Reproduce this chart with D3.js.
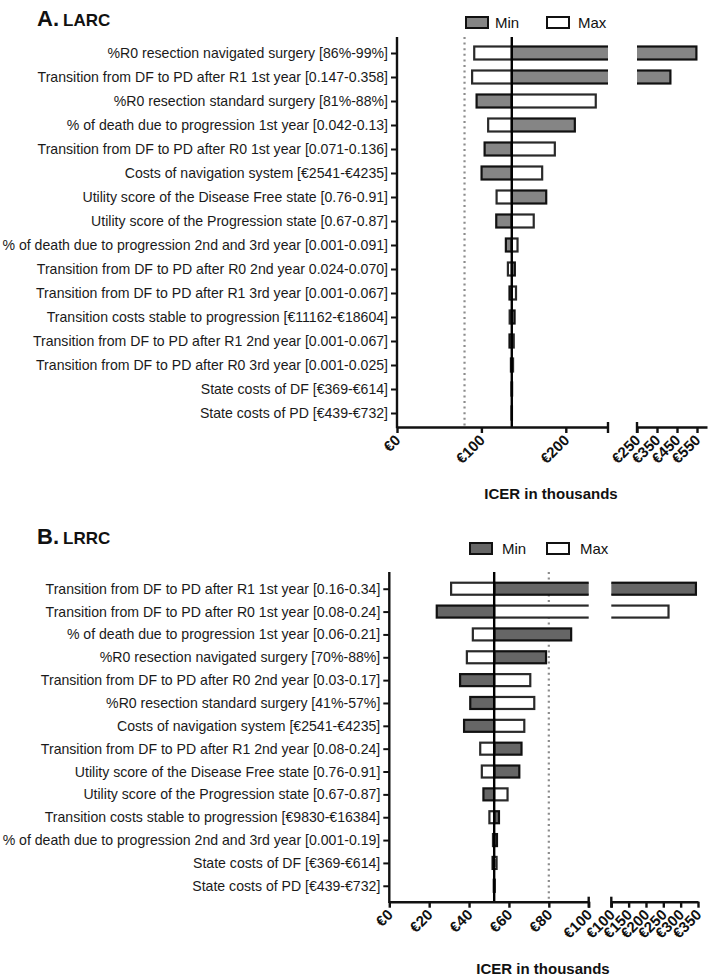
<!DOCTYPE html>
<html><head><meta charset="utf-8">
<script src="https://cdn.jsdelivr.net/npm/d3@7"></script>
<style>
body{margin:0;background:#fff}
svg{display:block}
text{font-family:"Liberation Sans",Arial,Helvetica,sans-serif}
</style>
</head><body>
<svg id="chart" width="712" height="978"></svg>
<script>
// ---------- DATA ----------
const larcCategories = [
  "%R0 resection navigated surgery [86%-99%]",
  "Transition from DF to PD after R1 1st year [0.147-0.358]",
  "%R0 resection standard surgery [81%-88%]",
  "% of death due to progression 1st year [0.042-0.13]",
  "Transition from DF to PD after R0 1st year [0.071-0.136]",
  "Costs of navigation system [€2541-€4235]",
  "Utility score of the Disease Free state [0.76-0.91]",
  "Utility score of the Progression state [0.67-0.87]",
  "% of death due to progression 2nd and 3rd year [0.001-0.091]",
  "Transition from DF to PD after R0 2nd year 0.024-0.070]",
  "Transition from DF to PD after R1 3rd year [0.001-0.067]",
  "Transition costs stable to progression [€11162-€18604]",
  "Transition from DF to PD after R1 2nd year [0.001-0.067]",
  "Transition from DF to PD after R0 3rd year [0.001-0.025]",
  "State costs of DF [€369-€614]",
  "State costs of PD [€439-€732]"
];
const larcMin = [547, 417, 94.3, 210.7, 103.8, 100.2, 176.8, 117.6, 129, 139.6, 133.3, 139.3, 133.3, 135, 135.8, 135.9];
const larcMax = [91.5, 89, 235.5, 108, 187, 172, 118, 162, 142.8, 131.4, 141, 133.5, 138.3, 137.5, 136.4, 136.2];
const larcBase = 136;
const larcThreshold = 80;
const larcTicksLow = [0, 100, 200];
const larcTicksHigh = [250, 350, 450, 550];
const larcBreak = [250, 600];

const lrrcCategories = [
  "Transition from DF to PD after R1 1st year [0.16-0.34]",
  "Transition from DF to PD after R0 1st year [0.08-0.24]",
  "% of death due to progression 1st year [0.06-0.21]",
  "%R0 resection navigated surgery [70%-88%]",
  "Transition from DF to PD after R0 2nd year [0.03-0.17]",
  "%R0 resection standard surgery [41%-57%]",
  "Costs of navigation system [€2541-€4235]",
  "Transition from DF to PD after R1 2nd year [0.08-0.24]",
  "Utility score of the Disease Free state [0.76-0.91]",
  "Utility score of the Progression state [0.67-0.87]",
  "Transition costs stable to progression [€9830-€16384]",
  "% of death due to progression 2nd and 3rd year [0.001-0.19]",
  "State costs of DF [€369-€614]",
  "State costs of PD [€439-€732]"
];
const lrrcMin = [344, 23.8, 91.2, 78.6, 35.5, 40.6, 37.5, 66.3, 65.2, 47.2, 55, 54, 51.8, 52.4];
const lrrcMax = [31, 265, 41.9, 38.9, 70.7, 72.7, 67.7, 45.6, 46.4, 59.3, 50.2, 52, 53.8, 52.9];
const lrrcBase = 52.6;
const lrrcThreshold = 80;
const lrrcTicksLow = [0, 20, 40, 60, 80, 100];
const lrrcTicksHigh = [100, 150, 200, 250, 300, 350];
const lrrcBreak = [100, 350];

const seriesNames = ["Min", "Max"];
const axisTitle = "ICER in thousands";

// ---------- DRAWING ----------
const svg = d3.select("#chart");
const fmt = d => "€" + d;

function drawPanel(opt) {
  const g = svg.append("g");
  const brk = opt.brk;
  const xLow = d3.scaleLinear().domain([0, brk[0]]).range([opt.x0, opt.x1]);
  const xHigh = d3.scaleLinear().domain(brk).range([opt.x2, opt.x3]);
  const y = d3.scalePoint().domain(opt.categories).range(opt.band).padding(0.5);

  // title
  const t = g.append("text").attr("x", 37).attr("y", opt.titleY)
    .attr("font-weight", "bold").attr("fill", "#111");
  t.append("tspan").attr("font-size", 22).text(opt.letter);
  t.append("tspan").attr("font-size", 17).attr("dx", 4).text(opt.name);

  // legend
  const lg = g.append("g");
  seriesNames.forEach((s, i) => {
    lg.append("rect").attr("x", opt.legBoxX[i]).attr("y", opt.legY - 5.5)
      .attr("width", 22).attr("height", 11)
      .attr("fill", i === 0 ? opt.grey : "#fff")
      .attr("stroke", "#111").attr("stroke-width", 2);
    lg.append("text").attr("x", opt.legTextX[i]).attr("y", opt.legY + 5.5)
      .attr("font-size", 15).attr("fill", "#111").text(s);
  });

  // clip paths for the two axis segments
  const id = opt.name;
  const defs = g.append("defs");
  defs.append("clipPath").attr("id", "lo" + id).append("rect")
    .attr("x", 0).attr("y", 0).attr("width", opt.x1).attr("height", 978);
  defs.append("clipPath").attr("id", "hi" + id).append("rect")
    .attr("x", opt.x2).attr("y", 0).attr("width", 712 - opt.x2).attr("height", 978);

  const segs = [
    {scale: xLow, clip: "lo" + id, lo: 0, hi: brk[0]},
    {scale: xHigh, clip: "hi" + id, lo: brk[0], hi: brk[1]}
  ];

  // dotted threshold line
  g.append("line").attr("x1", xLow(opt.threshold)).attr("x2", xLow(opt.threshold))
    .attr("y1", opt.yTop).attr("y2", opt.axisY)
    .attr("stroke", "#8c8c8c").attr("stroke-width", 2.2).attr("stroke-dasharray", "2,3.6");

  // bars
  const rows = [];
  opt.categories.forEach((c, i) => {
    rows.push({c, v: opt.min[i], s: 0});
    rows.push({c, v: opt.max[i], s: 1});
  });
  segs.forEach(sg => {
    const sgG = g.append("g").attr("clip-path", `url(#${sg.clip})`);
    sgG.selectAll("rect").data(rows.filter(d => Math.max(d.v, opt.base) > sg.lo && Math.min(d.v, opt.base) < sg.hi))
      .join("rect")
      .attr("x", d => sg.scale(Math.min(d.v, opt.base)))
      .attr("width", d => Math.abs(sg.scale(d.v) - sg.scale(opt.base)))
      .attr("y", d => y(d.c) - opt.barH / 2)
      .attr("height", opt.barH)
      .attr("fill", d => d.s === 0 ? opt.grey : "#fff")
      .attr("stroke", d => d.s === 0 ? "#111" : "#2a2a2a")
      .attr("stroke-width", 2.2);
  });

  // base-case line
  g.append("line").attr("x1", xLow(opt.base)).attr("x2", xLow(opt.base))
    .attr("y1", opt.yTop).attr("y2", opt.axisY)
    .attr("stroke", "#000").attr("stroke-width", 2.4);

  // y axis
  const ya = g.append("g").attr("transform", `translate(${opt.x0},0)`)
    .call(d3.axisLeft(y).tickSize(6).tickPadding(3));
  ya.select(".domain").remove();
  ya.selectAll(".tick line").attr("stroke", "#111").attr("stroke-width", 2);
  ya.selectAll(".tick text").attr("font-size", 14.1).attr("fill", "#1a1a1a")
    .attr("font-family", '"Liberation Sans",Arial,sans-serif');
  g.append("line").attr("x1", opt.x0).attr("x2", opt.x0)
    .attr("y1", opt.yTop).attr("y2", opt.axisY + 1.2)
    .attr("stroke", "#111").attr("stroke-width", 2.4);

  // x axes (two segments)
  [[xLow, opt.ticksLow], [xHigh, opt.ticksHigh]].forEach(([sc, tv]) => {
    const ax = g.append("g").attr("transform", `translate(0,${opt.axisY})`)
      .call(d3.axisBottom(sc).tickValues(tv).tickSize(6).tickSizeOuter(0).tickFormat(fmt));
    ax.select(".domain").attr("stroke", "#111").attr("stroke-width", 2.4);
    ax.selectAll(".tick line").attr("stroke", "#111").attr("stroke-width", 2.4);
    ax.selectAll(".tick text")
      .attr("x", 0).attr("y", 0).attr("dy", null)
      .attr("text-anchor", "end")
      .attr("transform", "translate(4,14) rotate(-45)")
      .attr("font-size", 15).attr("font-weight", "bold").attr("fill", "#111")
      .attr("font-family", '"Liberation Sans",Arial,sans-serif');
  });
  // break caps at segment ends
  [opt.x1, opt.x2].forEach(x => {
    g.append("line").attr("x1", x).attr("x2", x)
      .attr("y1", opt.axisY - 5).attr("y2", opt.axisY + 6)
      .attr("stroke", "#111").attr("stroke-width", 2.4);
  });

  // axis title
  g.append("text").attr("x", opt.titleX).attr("y", opt.axisTitleY)
    .attr("text-anchor", "middle").attr("font-size", 15).attr("font-weight", "bold")
    .attr("fill", "#111").text(axisTitle);
}

drawPanel({
  letter: "A.", name: "LARC", titleY: 26,
  categories: larcCategories, min: larcMin, max: larcMax,
  base: larcBase, threshold: larcThreshold,
  ticksLow: larcTicksLow, ticksHigh: larcTicksHigh, brk: larcBreak,
  x0: 397, x1: 608, x2: 637, x3: 707,
  yTop: 37, axisY: 427, band: [41, 425], barH: 13,
  grey: "#858585",
  legY: 22.5, legBoxX: [466, 547], legTextX: [495, 578],
  titleX: 551, axisTitleY: 499
});

drawPanel({
  letter: "B.", name: "LRRC", titleY: 544,
  categories: lrrcCategories, min: lrrcMin, max: lrrcMax,
  base: lrrcBase, threshold: lrrcThreshold,
  ticksLow: lrrcTicksLow, ticksHigh: lrrcTicksHigh, brk: lrrcBreak,
  x0: 389.3, x1: 588.7, x2: 611.3, x3: 698,
  yTop: 572, axisY: 901.7, band: [577.3, 897.2], barH: 12,
  grey: "#666666",
  legY: 548.5, legBoxX: [470, 547], legTextX: [502, 580],
  titleX: 543, axisTitleY: 974
});
</script>
</body></html>
